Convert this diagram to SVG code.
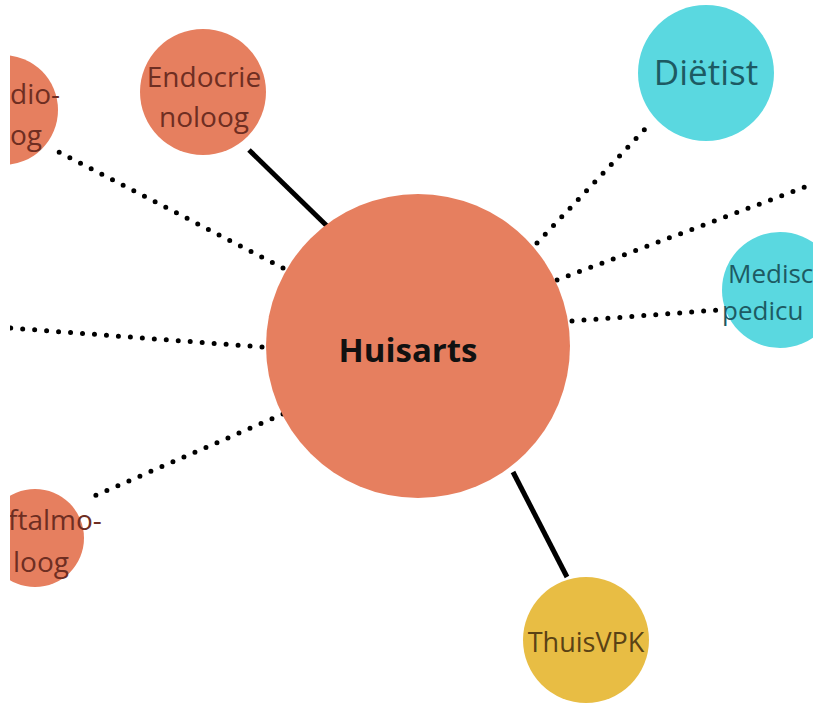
<svg xmlns="http://www.w3.org/2000/svg" width="813" height="704" viewBox="0 0 813 704">
<style>
.orange{fill:#E67F5F}
.cyan{fill:#5AD8E0}
.gold{fill:#E8BD44}
.t{font-family:"Open Sans","Noto Sans",sans-serif;text-anchor:middle}
.s{text-anchor:start}
.to{fill:#6E2E22;font-size:28px}
.tc{fill:#1D5A63}
.tg{fill:#5A4215;font-size:27px}
.solid{stroke:#000;stroke-width:5;fill:none}
.dot{stroke:#000;stroke-width:5;stroke-linecap:round;stroke-dasharray:0 12;fill:none}
</style>
<defs><clipPath id="c"><rect x="10" y="0" width="803" height="704"/></clipPath></defs>
<rect width="813" height="704" fill="#fff"/>
<g clip-path="url(#c)">
<g id="connectors">
<line class="solid" x1="249" y1="150" x2="327" y2="226"/>
<line class="solid" x1="513" y1="472" x2="567" y2="577"/>
<line class="dot" x1="283" y1="268" x2="55" y2="150"/>
<line class="dot" x1="537" y1="243" x2="646" y2="128"/>
<line class="dot" x1="557" y1="280" x2="813" y2="184"/>
<line class="dot" x1="572" y1="321" x2="718" y2="310"/>
<line class="dot" x1="262" y1="347" x2="10" y2="328"/>
<line class="dot" x1="283" y1="414" x2="85" y2="500"/>
</g>
<g id="huisarts">
<circle class="orange" cx="418" cy="346" r="152"/>
<text class="t" x="408" y="362" font-size="33" font-weight="bold" fill="#111">Huisarts</text>
</g>
<g id="endocrienoloog">
<circle class="orange" cx="203" cy="92" r="63"/>
<text class="t to" x="204" y="87">Endocrie</text>
<text class="t to" x="204" y="127">noloog</text>
</g>
<g id="cardioloog">
<circle class="orange" cx="3" cy="110" r="55"/>
<text class="t to s" x="10" y="104">dio-</text>
<text class="t to s" x="10" y="145">og</text>
</g>
<g id="dietist">
<circle class="cyan" cx="706" cy="73" r="68"/>
<text class="t tc" x="706" y="85" font-size="35">Diëtist</text>
</g>
<g id="pedicure">
<circle class="cyan" cx="780" cy="290" r="58"/>
<text class="t tc s" x="728" y="283" font-size="26">Medisc</text>
<text class="t tc s" x="722" y="320" font-size="26">pedicu</text>
</g>
<g id="oftalmoloog">
<circle class="orange" cx="35" cy="538" r="49"/>
<text class="t to s" x="8" y="530">ftalmo-</text>
<text class="t to s" x="13" y="572">loog</text>
</g>
<g id="thuisvpk">
<circle class="gold" cx="586" cy="640" r="63"/>
<text class="t tg" x="586" y="652">ThuisVPK</text>
</g>
</g>
</svg>
